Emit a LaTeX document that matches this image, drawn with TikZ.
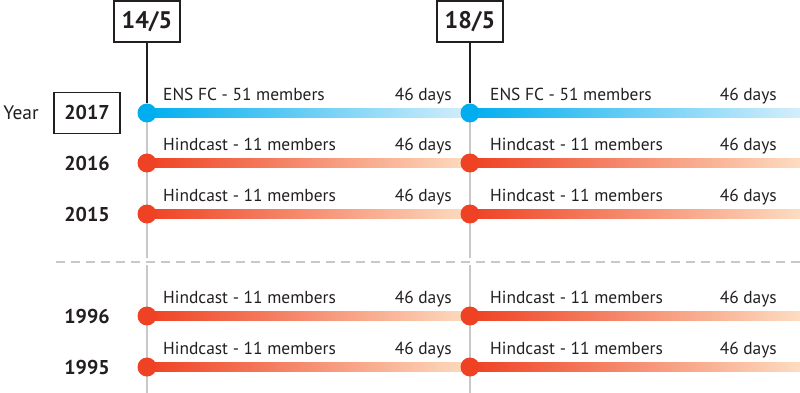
\documentclass[tikz,border=0pt]{standalone}
\usepackage{fontspec}
\setmainfont{PT Sans}
\usetikzlibrary{positioning,backgrounds}

\begin{document}
\begin{tikzpicture}[x=1pt,y=-1pt]

	% ============================================================
	% COLORS
	% ============================================================
	\definecolor{ink}{HTML}{231F20}
	\definecolor{rule}{HTML}{C8C8C8}
	\definecolor{ensStart}{HTML}{00AEEF}
	\definecolor{ensEnd}{HTML}{D4EEFB}
	\definecolor{hindStart}{HTML}{EF4123}
	\definecolor{hindEnd}{HTML}{FDDCC0}

	% ============================================================
	% STYLES
	% ============================================================
	\tikzset{
		dateBox/.style={
			draw=ink,
			line width=1.2pt,
			minimum width=66,
			minimum height=41,
			inner sep=0pt,
			font=\bfseries\fontsize{24}{28}\selectfont,
			text=ink
		},
	yearBox/.style={draw=ink, line width=1.2pt, minimum width=66, minimum height=41, inner sep=0pt, font=\bfseries\fontsize{20}{24}\selectfont, text=ink},
	yearLbl/.style={font=\bfseries\fontsize{20}{24}\selectfont, text=ink, inner sep=0pt},
	runLbl/.style={font=\fontsize{17.4}{21}\selectfont, text=ink, inner sep=0pt},
	ensDot/.style={circle, fill=ensStart, minimum size=19, inner sep=0pt},
	hindDot/.style={circle, fill=hindStart, minimum size=19, inner sep=0pt},
	ensBar/.style={left color=ensStart, right color=ensEnd},
	hindBar/.style={left color=hindStart, right color=hindEnd},
	link/.style={draw=ink, line width=1.3pt},
	track/.style={draw=rule, line width=1.5pt},
	sepLine/.style={draw=rule, line width=1.5pt, dash pattern=on 9pt off 6pt}
	}

	\useasboundingbox (0,0) rectangle (800,393);

	% ============================================================
	% LAYOUT - two start dates (x=147, x=470), rows by year
	% ============================================================
	% Rows: 2017 y=113, 2016 y=163, 2015 y=214, 1996 y=316, 1995 y=367

	% DATE BOXES
	\node[dateBox] (d14) at (147,21.5) {14/5};
	\node[dateBox] (d18) at (470,21.5) {18/5};

	% TRACK ENDS
	\coordinate (footA) at (147,393);
	\coordinate (footB) at (470,393);
	\coordinate (cutA) at (147,262);
	\coordinate (cutB) at (470,262);
	\coordinate (sepL) at (56,262);
	\coordinate (sepR) at (800,262);

	% BAR ENDS
	\coordinate (endA17) at (470,113);
	\coordinate (endB17) at (800,113);
	\coordinate (endA16) at (470,163);
	\coordinate (endB16) at (800,163);
	\coordinate (endA15) at (470,214);
	\coordinate (endB15) at (800,214);
	\coordinate (endA96) at (470,316);
	\coordinate (endB96) at (800,316);
	\coordinate (endA95) at (470,367);
	\coordinate (endB95) at (800,367);

	% ============================================================
	% DOTS
	% ============================================================
	\node[ensDot]  (dA17) at (147,113) {};
	\node[ensDot]  (dB17) at (470,113) {};
	\node[hindDot] (dA16) at (147,163) {};
	\node[hindDot] (dB16) at (470,163) {};
	\node[hindDot] (dA15) at (147,214) {};
	\node[hindDot] (dB15) at (470,214) {};
	\node[hindDot] (dA96) at (147,316) {};
	\node[hindDot] (dB96) at (470,316) {};
	\node[hindDot] (dA95) at (147,367) {};
	\node[hindDot] (dB95) at (470,367) {};

	% ============================================================
	% TRACKS, SEPARATOR AND BARS (behind the dots)
	% ============================================================
	\begin{pgfonlayer}{background}
	\draw[track] (dA17.center) -- ([yshift=4pt]cutA);
	\draw[track] ([yshift=-3pt]cutA) -- (footA);
	\draw[track] (dB17.center) -- ([yshift=4pt]cutB);
	\draw[track] ([yshift=-3pt]cutB) -- (footB);
	\draw[sepLine] (sepL) -- (sepR);

	\shade[ensBar]  ([yshift=4.5pt]dA17.center) rectangle ([yshift=-4.5pt]endA17);
	\shade[ensBar]  ([yshift=4.5pt]dB17.center) rectangle ([yshift=-4.5pt]endB17);
	\shade[hindBar] ([yshift=4.5pt]dA16.center) rectangle ([yshift=-4.5pt]endA16);
	\shade[hindBar] ([yshift=4.5pt]dB16.center) rectangle ([yshift=-4.5pt]endB16);
	\shade[hindBar] ([yshift=4.5pt]dA15.center) rectangle ([yshift=-4.5pt]endA15);
	\shade[hindBar] ([yshift=4.5pt]dB15.center) rectangle ([yshift=-4.5pt]endB15);
	\shade[hindBar] ([yshift=4.5pt]dA96.center) rectangle ([yshift=-4.5pt]endA96);
	\shade[hindBar] ([yshift=4.5pt]dB96.center) rectangle ([yshift=-4.5pt]endB96);
	\shade[hindBar] ([yshift=4.5pt]dA95.center) rectangle ([yshift=-4.5pt]endA95);
	\shade[hindBar] ([yshift=4.5pt]dB95.center) rectangle ([yshift=-4.5pt]endB95);
	\end{pgfonlayer}

	% ============================================================
	% LINKS - DATE BOX TO FIRST DOT
	% ============================================================
	\draw[link] (d14.south) -- (dA17.north);
	\draw[link] (d18.south) -- (dB17.north);

	% ============================================================
	% YEAR LABELS
	% ============================================================
	\node[font=\fontsize{19.5}{23}\selectfont, text=ink, inner sep=0pt] (yearWord) at (21,113) {Year};
	\node[yearBox] (y17) at (87,113) {2017};
	\node[yearLbl] (y16) at (87,163) {2016};
	\node[yearLbl] (y15) at (87,214) {2015};
	\node[yearLbl] (y96) at (87,316) {1996};
	\node[yearLbl] (y95) at (87,367) {1995};

	% ============================================================
	% RUN LABELS
	% ============================================================
	\node[runLbl, anchor=base west] (tA17) at (163,100.5) {ENS FC - 51 members};
	\node[runLbl, anchor=base east] (nA17) at (452,100.5) {46 days};
	\node[runLbl, anchor=base west] (tB17) at (490,100.5) {ENS FC - 51 members};
	\node[runLbl, anchor=base east] (nB17) at (777,100.5) {46 days};

	\node[runLbl, anchor=base west] (tA16) at (163,150.5) {Hindcast - 11 members};
	\node[runLbl, anchor=base east] (nA16) at (452,150.5) {46 days};
	\node[runLbl, anchor=base west] (tB16) at (490,150.5) {Hindcast - 11 members};
	\node[runLbl, anchor=base east] (nB16) at (777,150.5) {46 days};

	\node[runLbl, anchor=base west] (tA15) at (163,201.5) {Hindcast - 11 members};
	\node[runLbl, anchor=base east] (nA15) at (452,201.5) {46 days};
	\node[runLbl, anchor=base west] (tB15) at (490,201.5) {Hindcast - 11 members};
	\node[runLbl, anchor=base east] (nB15) at (777,201.5) {46 days};

	\node[runLbl, anchor=base west] (tA96) at (163,303.5) {Hindcast - 11 members};
	\node[runLbl, anchor=base east] (nA96) at (452,303.5) {46 days};
	\node[runLbl, anchor=base west] (tB96) at (490,303.5) {Hindcast - 11 members};
	\node[runLbl, anchor=base east] (nB96) at (777,303.5) {46 days};

	\node[runLbl, anchor=base west] (tA95) at (163,354.5) {Hindcast - 11 members};
	\node[runLbl, anchor=base east] (nA95) at (452,354.5) {46 days};
	\node[runLbl, anchor=base west] (tB95) at (490,354.5) {Hindcast - 11 members};
	\node[runLbl, anchor=base east] (nB95) at (777,354.5) {46 days};

\end{tikzpicture}
\end{document}
